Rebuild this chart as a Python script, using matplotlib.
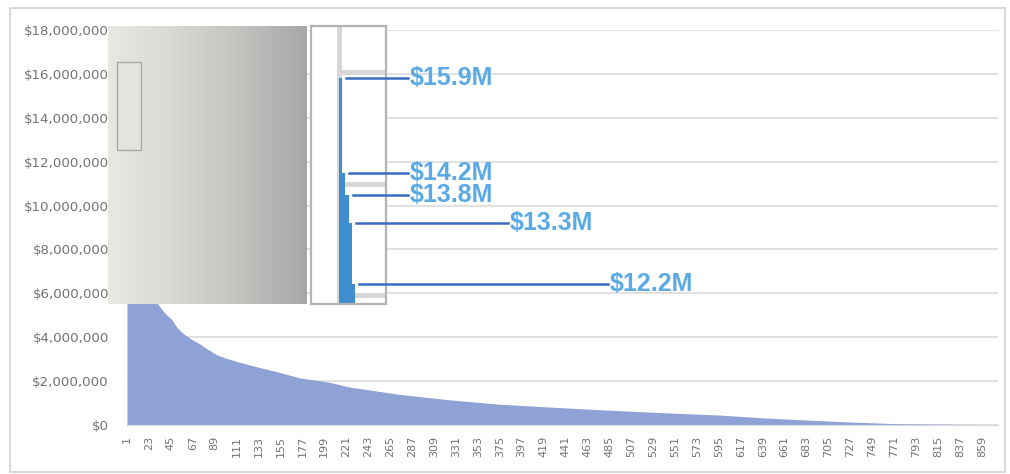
import numpy as np
import matplotlib.pyplot as plt
from matplotlib.colors import LinearSegmentedColormap
from matplotlib.patches import Rectangle
from matplotlib.ticker import FuncFormatter

# ---- data (values in $M) ----
ranks = [1, 2, 3, 4, 5, 6, 8, 10, 13, 16, 20, 25, 32, 39, 46, 51, 58, 66, 74,
         82, 91, 100, 114, 134, 154, 174, 204, 224, 274, 324, 374, 424, 474,
         534, 597, 641, 681, 724, 774, 820, 864, 875]
values = [15.9, 14.2, 13.8, 13.3, 12.2, 11.0, 9.8, 9.0, 8.2, 7.5, 6.8, 6.1,
          5.5, 5.1, 4.8, 4.45, 4.15, 3.9, 3.7, 3.45, 3.2, 3.05, 2.86, 2.62,
          2.4, 2.15, 1.95, 1.73, 1.4, 1.15, 0.95, 0.82, 0.7, 0.57, 0.45,
          0.32, 0.23, 0.14, 0.06, 0.04, 0.02, 0.0]

top_ranks = [1, 2, 3, 4, 5]
top_values = [15.9, 14.2, 13.8, 13.3, 12.2]
top_labels = ['$15.9M', '$14.2M', '$13.8M', '$13.3M', '$12.2M']

tick_ranks = list(range(1, 860, 22))
y_ticks = list(range(0, 19, 2))

W, H = 1010, 474


def px_box(x0, y0, x1, y1):
    return [x0 / W, 1 - y1 / H, (x1 - x0) / W, (y1 - y0) / H]


fig = plt.figure(figsize=(W / 100, H / 100), dpi=100)
fig.patch.set_facecolor('white')

# outer chart border
fig.add_artist(Rectangle((10 / W, 2 / H), 995 / W, 464 / H, transform=fig.transFigure,
                         fill=False, edgecolor='#d9d9d9', linewidth=1.5))

# ---- main area chart ----
ax = fig.add_axes(px_box(127, 30, 998, 425))
x = np.array(ranks)
y = np.array(values) * 1e6
ax.fill_between(x, 0, y, color='#8fa2d5', linewidth=0, zorder=2)
ax.set_xlim(1, 875)
ax.set_ylim(0, 18e6)
ax.set_yticks([v * 1e6 for v in y_ticks])
ax.yaxis.set_major_formatter(FuncFormatter(lambda v, p: '${:,.0f}'.format(v)))
ax.set_xticks(tick_ranks)
ax.set_xticklabels([str(t) for t in tick_ranks], rotation=90)
ax.tick_params(axis='y', length=0, pad=13, labelsize=9.6, labelcolor='#737373')
ax.tick_params(axis='x', length=0, pad=8, labelsize=8, labelcolor='#737373')
ax.grid(axis='y', color='#dcdcdc', linewidth=1.2, zorder=0)
for s in ['top', 'right', 'left']:
    ax.spines[s].set_visible(False)
ax.spines['bottom'].set_color('#d9d9d9')
ax.set_axisbelow(True)

# ---- grey gradient overlay panel ----
gax = fig.add_axes(px_box(108, 26, 307, 304))
cmap = LinearSegmentedColormap.from_list(
    'panel', [(0, '#e9e7e4'), (0.3, '#dcdad6'), (0.65, '#c5c3c0'), (1, '#a7a7a7')])
gax.imshow(np.linspace(0, 1, 256).reshape(1, -1), aspect='auto', cmap=cmap,
           extent=[0, 1, 0, 1])
gax.add_patch(Rectangle((9 / 199, 1 - 124 / 278), 24 / 199, 88 / 278,
                        transform=gax.transAxes, facecolor='#e5e3e0',
                        edgecolor='#a8a8a8', linewidth=1))
gax.set_xlim(0, 1)
gax.set_ylim(0, 1)
gax.axis('off')

# ---- zoomed inset of top 5 ----
iax = fig.add_axes(px_box(311, 26, 386, 304))
iax.set_facecolor('white')
iax.set_xlim(-8.75, 14.7)
iax.set_ylim(11.84, 16.83)
iax.axvline(0, color='#d6d6d6', linewidth=3.5, zorder=1)
iax.hlines([12, 14, 16], 0, 14.7, color='#d6d6d6', linewidth=3.5, zorder=1)
iax.bar(np.array(top_ranks) - 0.5, top_values, width=1.0, color='#3d8dcf',
        linewidth=0, zorder=2)
iax.set_xticks([])
iax.set_yticks([])
for s in iax.spines.values():
    s.set_color('#b4b4b4')
    s.set_linewidth(1.6)

label_px = [410, 410, 410, 510, 610]
for r, v, lab, lx in zip(top_ranks, top_values, top_labels, label_px):
    tx = (lx - 339) / 3.2
    iax.plot([r + 1.25, tx - 0.6], [v, v], color='#3b6cc0', linewidth=1.8,
             clip_on=False, zorder=3)
    iax.text(tx, v, lab, ha='left', va='center', fontsize=18, fontweight='bold',
             color='#5aaae6', family=['Liberation Sans', 'DejaVu Sans'],
             clip_on=False, zorder=4)

fig.savefig('out.png', dpi=100)
